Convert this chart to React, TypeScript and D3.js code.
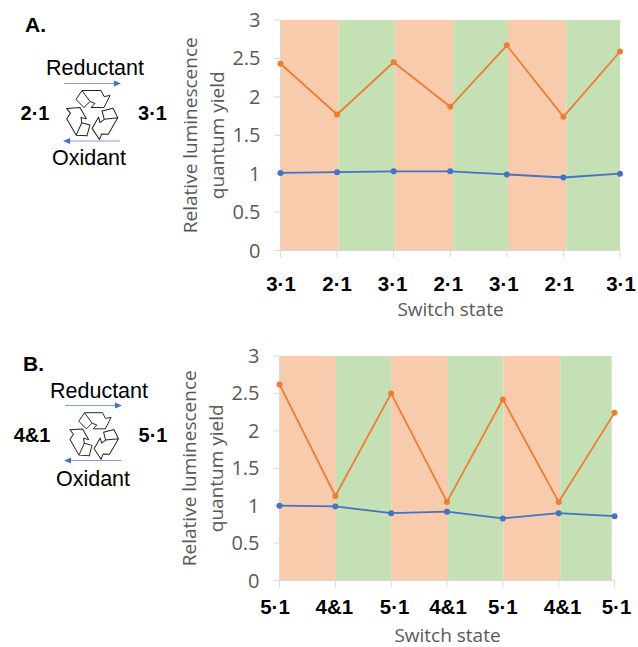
import React from "react";
import * as d3 from "d3";

const yTicks = [0, 0.5, 1, 1.5, 2, 2.5, 3];
const yTickLabels = ["0", "0.5", "1", "1.5", "2", "2.5", "3"];

const labelsA = ["3·1", "2·1", "3·1", "2·1", "3·1", "2·1", "3·1"];
const orangeA = [2.43, 1.77, 2.45, 1.87, 2.67, 1.74, 2.59];
const blueA = [1.01, 1.02, 1.03, 1.03, 0.99, 0.95, 1.0];
const bandEdgesA = [0, 1.03, 2.02, 3.05, 4.02, 5.05, 6];

const labelsB = ["5·1", "4&1", "5·1", "4&1", "5·1", "4&1", "5·1"];
const orangeB = [2.62, 1.13, 2.5, 1.05, 2.42, 1.05, 2.24];
const blueB = [1.0, 0.99, 0.9, 0.92, 0.83, 0.9, 0.86];
const bandEdgesB = [0, 1.01, 2.0, 3.02, 4.01, 5.03, 5.95];

const ORANGE = "#ed7d31";
const BLUE = "#4472c4";
const GRID = "#d9d9d9";
const TEXT = "#595959";
const axisFont = "'Open Sans', sans-serif";
const labelFont = "'Liberation Sans', Arial, sans-serif";

// one of the three arrows of the recycling sign, rotated round the centre
const arrowPath =
  "M-16,-15 L-10,-24 L-2,-13 L-8,-7 Z M-10,-24 L9,-24 L12,-18 L18,-19 L12,-7 L-1,-7 L3,-11 L-2,-13";

function RecycleIcon({ x, y, scale }: { x: number; y: number; scale: number }) {
  return (
    <g transform={`translate(${x},${y}) scale(${scale})`} fill="none" stroke="#222" strokeWidth={1} strokeLinejoin="round">
      {[0, 120, 240].map((r) => (
        <path key={r} d={arrowPath} transform={`rotate(${r})`} />
      ))}
    </g>
  );
}

type PanelProps = {
  letter: string;
  left: number;
  right: number;
  top: number;
  bottom: number;
  labels: string[];
  orange: number[];
  blue: number[];
  edges: number[];
  stateLeft: string;
  stateRight: string;
  letterX: number;
  letterY: number;
  reductant: [number, number];
  oxidant: [number, number];
  arrowTop: [number, number, number];
  arrowBottom: [number, number, number];
  icon: [number, number, number];
  stateY: number;
  stateLeftX: number;
  stateRightX: number;
  labelY: number;
  labelDx: number[];
  axisTitle: [number, number];
  yTitleX: number;
};

function Panel(p: PanelProps) {
  const x = d3.scaleLinear().domain([0, 6]).range([p.left, p.right]);
  const y = d3.scaleLinear().domain([0, 3]).range([p.bottom, p.top]);
  const line = d3.line<number>().x((_, i) => x(i)).y((d) => y(d));
  const midY = (p.top + p.bottom) / 2;

  return (
    <g>
      {d3.pairs(p.edges).map(([a, b], i) => (
        <rect key={i} x={x(a)} y={p.top} width={x(b) - x(a)} height={p.bottom - p.top} fill={i % 2 ? "#c5e0b4" : "#f8cbad"} />
      ))}

      <line x1={p.left} x2={p.left} y1={p.top} y2={p.bottom} stroke={GRID} />
      <line x1={p.left - 6} x2={p.right} y1={p.bottom} y2={p.bottom} stroke={GRID} />
      {yTicks.map((t, i) => (
        <g key={t}>
          <line x1={p.left - 6} x2={p.left} y1={y(t)} y2={y(t)} stroke={GRID} />
          <text x={p.left - 20} y={y(t) + 7} textAnchor="end" fontFamily={axisFont} fontSize={20} fill={TEXT}>
            {yTickLabels[i]}
          </text>
        </g>
      ))}
      {p.labels.map((l, i) => (
        <g key={i}>
          <line x1={x(i)} x2={x(i)} y1={p.bottom} y2={p.bottom + 7} stroke={GRID} />
          <text x={x(i) + p.labelDx[i]} y={p.labelY} textAnchor="middle" fontFamily={labelFont} fontWeight="bold" fontSize={20.5} fill="#000">
            {l}
          </text>
        </g>
      ))}

      <text x={p.axisTitle[0]} y={p.axisTitle[1]} textAnchor="middle" fontFamily={axisFont} fontSize={19} fill={TEXT}>
        Switch state
      </text>
      <text transform={`translate(${p.yTitleX},${midY}) rotate(-90)`} textAnchor="middle" fontFamily={axisFont} fontSize={19} fill={TEXT}>
        <tspan x={0} dy={0}>Relative luminescence</tspan>
        <tspan x={0} dy={27}>quantum yield</tspan>
      </text>

      <path d={line(p.blue) ?? ""} fill="none" stroke={BLUE} strokeWidth={1.8} />
      <path d={line(p.orange) ?? ""} fill="none" stroke={ORANGE} strokeWidth={1.8} />
      {p.blue.map((v, i) => (
        <circle key={i} cx={x(i)} cy={y(v)} r={3} fill={BLUE} />
      ))}
      {p.orange.map((v, i) => (
        <circle key={i} cx={x(i)} cy={y(v)} r={3} fill={ORANGE} />
      ))}

      <text x={p.letterX} y={p.letterY} fontFamily={labelFont} fontWeight="bold" fontSize={21} fill="#000">
        {p.letter}
      </text>
      <text x={p.reductant[0]} y={p.reductant[1]} textAnchor="middle" fontFamily={labelFont} fontSize={21.5} fill="#000">
        Reductant
      </text>
      <text x={p.oxidant[0]} y={p.oxidant[1]} textAnchor="middle" fontFamily={labelFont} fontSize={21.5} fill="#000">
        Oxidant
      </text>
      <line x1={p.arrowTop[0]} x2={p.arrowTop[1] - 6} y1={p.arrowTop[2]} y2={p.arrowTop[2]} stroke="#7f9fd8" strokeWidth={1} />
      <path d={`M${p.arrowTop[1]},${p.arrowTop[2]} l-7,-3 v6 Z`} fill={BLUE} />
      <line x1={p.arrowBottom[0] + 6} x2={p.arrowBottom[1]} y1={p.arrowBottom[2]} y2={p.arrowBottom[2]} stroke="#7f9fd8" strokeWidth={1} />
      <path d={`M${p.arrowBottom[0]},${p.arrowBottom[2]} l7,-3 v6 Z`} fill={BLUE} />
      <RecycleIcon x={p.icon[0]} y={p.icon[1]} scale={p.icon[2]} />
      <text x={p.stateLeftX} y={p.stateY} textAnchor="middle" fontFamily={labelFont} fontWeight="bold" fontSize={20} fill="#000">
        {p.stateLeft}
      </text>
      <text x={p.stateRightX} y={p.stateY} textAnchor="middle" fontFamily={labelFont} fontWeight="bold" fontSize={20} fill="#000">
        {p.stateRight}
      </text>
    </g>
  );
}

export default function App() {
  return (
    <svg width={638} height={647} style={{ position: "absolute", left: 0, top: 0, background: "#fff" }}>
      <Panel
        letter="A."
        left={280.5}
        right={620}
        top={20}
        bottom={250.5}
        labels={labelsA}
        orange={orangeA}
        blue={blueA}
        edges={bandEdgesA}
        stateLeft="2·1"
        stateRight="3·1"
        letterX={25}
        letterY={32}
        reductant={[95, 75]}
        oxidant={[89, 164.5]}
        arrowTop={[64, 121, 83.5]}
        arrowBottom={[63, 120, 141]}
        icon={[92, 114.5, 1]}
        stateY={119.5}
        stateLeftX={35}
        stateRightX={152.5}
        labelY={290.5}
        labelDx={[0.5, 0, -1, -2, -3, -4, 1]}
        axisTitle={[450.5, 315.5]}
        yTitleX={197}
      />
      <Panel
        letter="B."
        left={279.5}
        right={614.5}
        top={356}
        bottom={580.5}
        labels={labelsB}
        orange={orangeB}
        blue={blueB}
        edges={bandEdgesB}
        stateLeft="4&1"
        stateRight="5·1"
        letterX={23}
        letterY={371}
        reductant={[99, 398]}
        oxidant={[93, 485.5]}
        arrowTop={[65, 122, 405.5]}
        arrowBottom={[64, 121, 460.5]}
        icon={[94, 435.5, 0.95]}
        stateY={442}
        stateLeftX={32}
        stateRightX={153}
        labelY={614}
        labelDx={[-4.5, -1, 3.5, 1, 0, 4, 2]}
        axisTitle={[447.5, 642]}
        yTitleX={196}
      />
    </svg>
  );
}
